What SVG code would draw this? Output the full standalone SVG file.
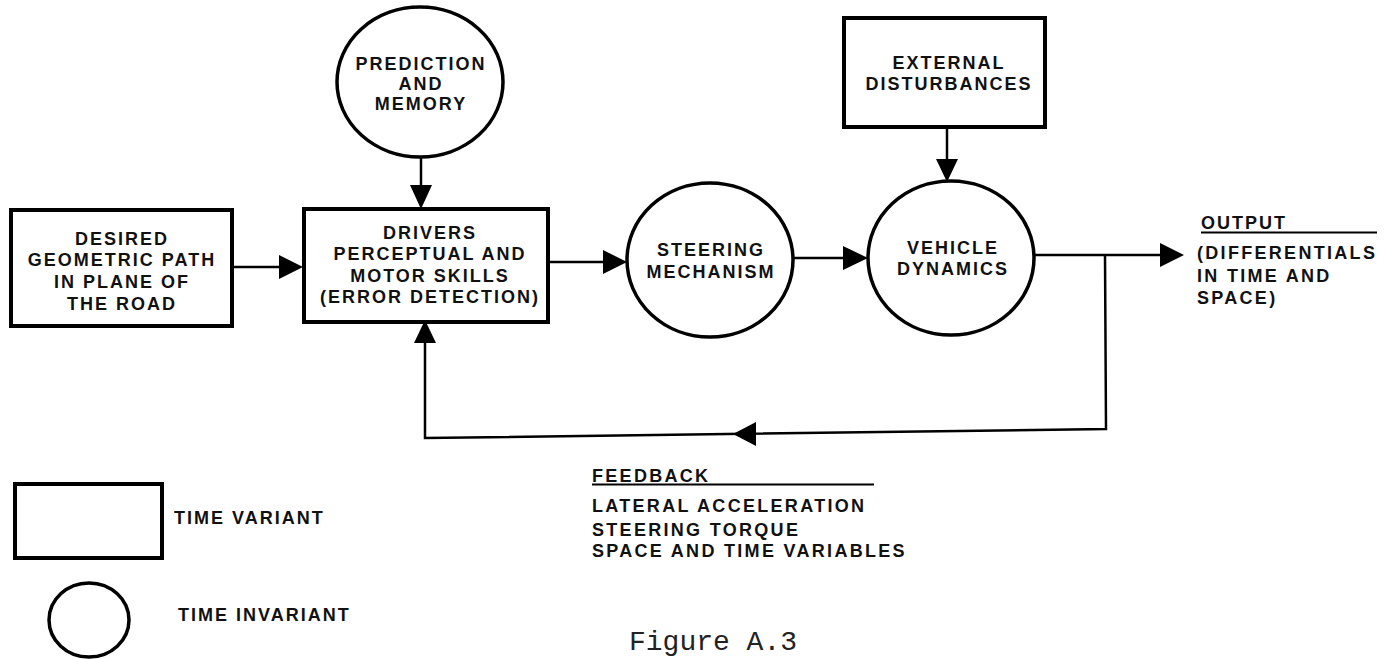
<svg xmlns="http://www.w3.org/2000/svg" width="1387" height="659" viewBox="0 0 1387 659">
<style>
.box{fill:#fff;stroke:#000;stroke-width:4}
.circ{fill:#fff;stroke:#000;stroke-width:3.5}
.ln{fill:none;stroke:#000;stroke-width:2.5}
.ah{fill:#000;stroke:none}
.t{font-family:"Liberation Sans",Arial,sans-serif;font-size:18px;font-weight:bold;letter-spacing:2px;fill:#111}
.w{letter-spacing:2.3px}
.c{text-anchor:middle}
.cap{font-family:"Liberation Mono","Courier New",monospace;font-size:28px;fill:#222}
</style>
<rect width="1387" height="659" fill="#fff"/>

<g id="connectors">
  <line class="ln" x1="232" y1="267" x2="285" y2="267"/>
  <polygon class="ah" points="303,267 279,255 279,279"/>
  <line class="ln" x1="421" y1="157" x2="421" y2="190"/>
  <polygon class="ah" points="421,209 410,185 432,185"/>
  <line class="ln" x1="548" y1="262" x2="610" y2="262"/>
  <polygon class="ah" points="627,262 603,250 603,274"/>
  <line class="ln" x1="793" y1="258" x2="850" y2="258"/>
  <polygon class="ah" points="868,258 843,246 843,270"/>
  <line class="ln" x1="947" y1="127" x2="947" y2="165"/>
  <polygon class="ah" points="947,182 936,159 958,159"/>
  <line class="ln" x1="1034" y1="255" x2="1165" y2="255"/>
  <polygon class="ah" points="1184,255 1160,243 1160,267"/>
  <polyline class="ln" points="1105,255 1106,429 425,438 425,340"/>
  <polygon class="ah" points="733,434 756,422 756,446"/>
  <polygon class="ah" points="425,320 414,343 436,343"/>
</g>

<g id="desired">
  <rect class="box" x="11" y="210" width="221" height="116"/>
  <text class="t c" x="122" y="245">DESIRED</text>
  <text class="t c" x="122" y="266">GEOMETRIC PATH</text>
  <text class="t c" x="122" y="288">IN PLANE OF</text>
  <text class="t c" x="122" y="310">THE ROAD</text>
</g>

<g id="prediction">
  <ellipse class="circ" cx="420" cy="82" rx="83" ry="75"/>
  <text class="t c" x="421" y="70">PREDICTION</text>
  <text class="t c" x="421" y="90">AND</text>
  <text class="t c" x="421" y="110">MEMORY</text>
</g>

<g id="drivers">
  <rect class="box" x="304" y="209" width="244" height="113"/>
  <text class="t c" x="430" y="239">DRIVERS</text>
  <text class="t c" x="430" y="260">PERCEPTUAL AND</text>
  <text class="t c" x="430" y="282">MOTOR SKILLS</text>
  <text class="t c" x="430" y="303">(ERROR DETECTION)</text>
</g>

<g id="steering">
  <ellipse class="circ" cx="710" cy="260" rx="83" ry="77"/>
  <text class="t c" x="711" y="256">STEERING</text>
  <text class="t c" x="711" y="278">MECHANISM</text>
</g>

<g id="external">
  <rect class="box" x="844" y="18" width="201" height="109"/>
  <text class="t c" x="949" y="69">EXTERNAL</text>
  <text class="t c" x="949" y="90">DISTURBANCES</text>
</g>

<g id="vehicle">
  <ellipse class="circ" cx="951" cy="258" rx="83" ry="77"/>
  <text class="t c" x="953" y="254">VEHICLE</text>
  <text class="t c" x="953" y="275">DYNAMICS</text>
</g>

<g id="output">
  <text class="t" x="1201" y="229">OUTPUT</text>
  <line x1="1201" y1="232.5" x2="1377" y2="232.5" stroke="#000" stroke-width="2"/>
  <text class="t w" x="1197" y="259">(DIFFERENTIALS</text>
  <text class="t w" x="1197" y="282">IN TIME AND</text>
  <text class="t w" x="1197" y="304">SPACE)</text>
</g>

<g id="feedback">
  <text class="t w" x="592" y="482">FEEDBACK</text>
  <line x1="592" y1="484.5" x2="874" y2="484.5" stroke="#000" stroke-width="2"/>
  <text class="t w" x="592" y="512">LATERAL ACCELERATION</text>
  <text class="t w" x="592" y="536">STEERING TORQUE</text>
  <text class="t w" x="592" y="557">SPACE AND TIME VARIABLES</text>
</g>

<g id="legend-variant">
  <rect class="box" x="15" y="484" width="147" height="74"/>
  <text class="t" x="174" y="524">TIME VARIANT</text>
</g>

<g id="legend-invariant">
  <ellipse class="circ" cx="89" cy="620" rx="40" ry="37"/>
  <text class="t" x="178" y="621">TIME INVARIANT</text>
</g>

<text class="cap" x="629" y="650">Figure A.3</text>
</svg>
